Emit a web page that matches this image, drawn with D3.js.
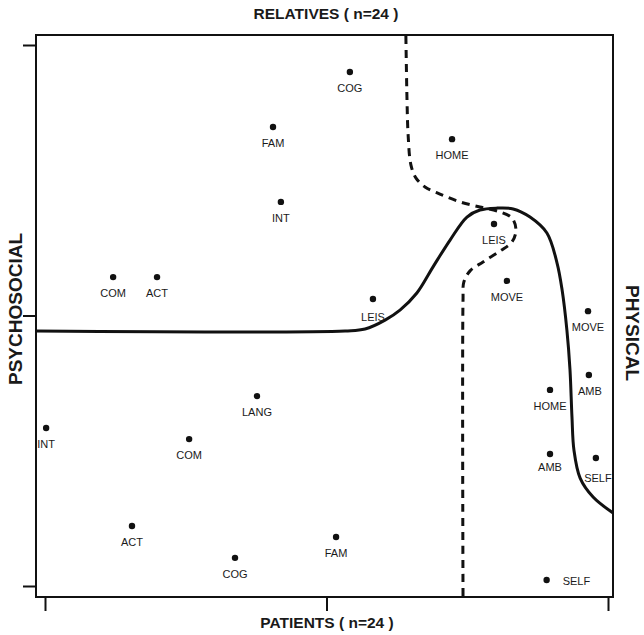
<!DOCTYPE html>
<html>
<head>
<meta charset="utf-8">
<script src="https://cdn.jsdelivr.net/npm/d3@7/dist/d3.min.js"></script>
<style>
  body { margin: 0; background: #fff; }
  svg { display: block; }
  text { font-family: "Liberation Sans", Arial, Helvetica, sans-serif; fill: #1a1a1a; }
</style>
</head>
<body>
<svg id="chart" width="644" height="635"></svg>
<script>
// ---- data (axis units, -1..1) ----
const labels = ["COG","FAM","HOME","INT","COM","ACT","LEIS","MOVE","LEIS","MOVE","AMB",
                "HOME","LANG","INT","COM","AMB","SELF","ACT","FAM","COG","SELF"];
const xVals = [0.083,-0.190,0.446,-0.162,-0.758,-0.602,0.595,0.641,0.165,0.929,0.932,
               0.794,-0.247,-0.996,-0.488,0.794,0.957,-0.691,0.034,-0.325,0.782];
const yVals = [0.900,0.697,0.652,0.420,0.142,0.142,0.338,0.128,0.061,0.016,-0.220,
               -0.275,-0.298,-0.416,-0.457,-0.512,-0.527,-0.778,-0.819,-0.896,-0.978];

// solid boundary curve
const solidX = [-1.032,0.066,0.137,0.208,0.261,0.321,0.378,0.439,0.499,0.545,0.606,0.663,
                0.723,0.783,0.819,0.837,0.854,0.865,0.872,0.879,0.901,0.947,1.018];
const solidY = [-0.057,-0.057,-0.050,-0.017,0.020,0.083,0.179,0.279,0.364,0.390,0.397,0.394,
                0.364,0.305,0.194,0.094,-0.054,-0.201,-0.375,-0.497,-0.601,-0.671,-0.730];

// dashed boundary curve
const dashX = [0.282,0.286,0.290,0.300,0.318,0.350,0.403,0.474,0.545,0.616,0.659,0.673,
               0.659,0.616,0.556,0.510,0.488,0.485,0.485];
const dashY = [1.033,0.797,0.667,0.556,0.508,0.475,0.449,0.420,0.401,0.383,0.360,0.316,
               0.272,0.238,0.198,0.165,0.124,0.057,-1.040];

const tickVals = [-1, 0, 1];

// ---- layout ----
const svg = d3.select("#chart");
const x = d3.scaleLinear().domain([-1, 1]).range([45, 608]);
const y = d3.scaleLinear().domain([-1, 1]).range([586, 45]);
const frame = {x0: 36, x1: 613, y0: 35, y1: 597};

// label placement tweaks (layout only)
const labelDy = {8: 22, 15: 17, 16: 24};
const labelDx = {10: 1, 16: 2};

// axes (ticks only)
const yAxis = d3.axisLeft(y).tickValues(tickVals).tickFormat("").tickSize(13).tickSizeOuter(0);
const gy = svg.append("g").attr("transform", `translate(${frame.x0},0)`).call(yAxis);
const xAxis = d3.axisBottom(x).tickValues(tickVals).tickFormat("").tickSize(14).tickSizeOuter(0);
const gx = svg.append("g").attr("transform", `translate(0,${frame.y1})`).call(xAxis);
[gx, gy].forEach(g => {
  g.select(".domain").remove();
  g.selectAll(".tick line").attr("stroke", "#111").attr("stroke-width", 2);
});

// frame
svg.append("rect")
  .attr("x", frame.x0).attr("y", frame.y0)
  .attr("width", frame.x1 - frame.x0).attr("height", frame.y1 - frame.y0)
  .attr("fill", "none").attr("stroke", "#111").attr("stroke-width", 2);

const line = d3.line().x(d => x(d[0])).y(d => y(d[1])).curve(d3.curveCatmullRom.alpha(0.5));

svg.append("path")
  .attr("d", line(solidX.map((v, i) => [v, solidY[i]])))
  .attr("fill", "none").attr("stroke", "#111").attr("stroke-width", 3);

svg.append("path")
  .attr("d", line(dashX.map((v, i) => [v, dashY[i]])))
  .attr("fill", "none").attr("stroke", "#111").attr("stroke-width", 3)
  .attr("stroke-dasharray", "8,6");

// points
const pts = labels.map((l, i) => ({l, x: xVals[i], y: yVals[i], i}));
svg.append("g").selectAll("circle").data(pts).join("circle")
  .attr("cx", d => x(d.x)).attr("cy", d => y(d.y)).attr("r", 3.2).attr("fill", "#111");

svg.append("g").selectAll("text").data(pts).join("text")
  .attr("x", d => d.i === 20 ? x(d.x) + 16 : x(d.x) + (labelDx[d.i] || 0))
  .attr("y", d => d.i === 20 ? y(d.y) + 5 : y(d.y) + (labelDy[d.i] || 20))
  .attr("text-anchor", d => d.i === 20 ? "start" : "middle")
  .attr("font-size", 11)
  .text(d => d.l);

// titles
svg.append("text").attr("x", 326).attr("y", 19).attr("text-anchor", "middle")
  .attr("font-size", 15.5).attr("font-weight", "bold").text("RELATIVES ( n=24 )");
svg.append("text").attr("x", 327).attr("y", 628).attr("text-anchor", "middle")
  .attr("font-size", 15.5).attr("font-weight", "bold").text("PATIENTS ( n=24 )");
svg.append("text").attr("transform", "translate(15,309) rotate(-90)")
  .attr("text-anchor", "middle").attr("dominant-baseline", "central")
  .attr("font-size", 19).attr("font-weight", "bold").text("PSYCHOSOCIAL");
svg.append("text").attr("transform", "translate(632,333) rotate(90)")
  .attr("text-anchor", "middle").attr("dominant-baseline", "central")
  .attr("font-size", 19).attr("font-weight", "bold").text("PHYSICAL");
</script>
</body>
</html>
